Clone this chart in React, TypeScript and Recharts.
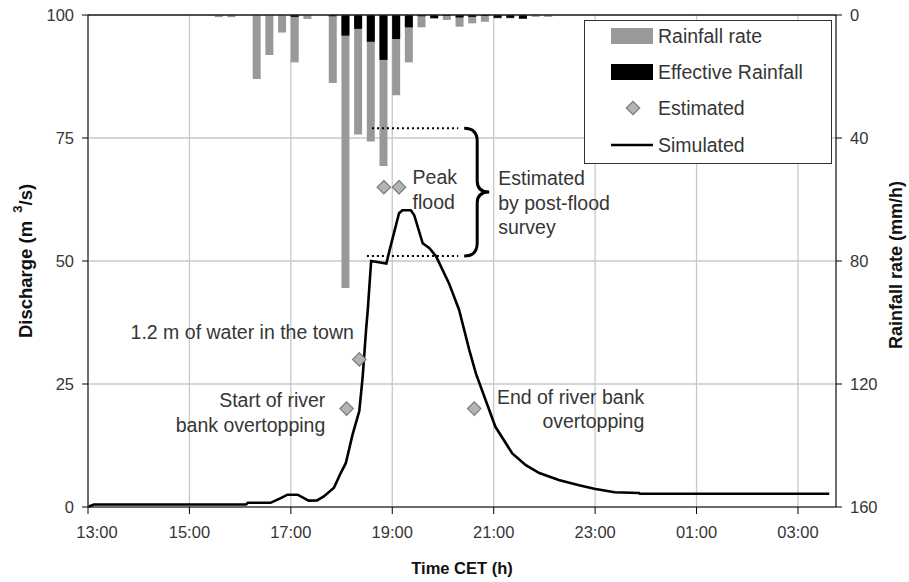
import React from 'react'
import {
  Bar,
  CartesianGrid,
  ComposedChart,
  Line,
  ReferenceDot,
  ReferenceLine,
  Scatter,
  XAxis,
  YAxis,
} from 'recharts'

const FONT = '"Liberation Sans", Arial, Helvetica, sans-serif'
const GREY = '#999999'
const INK = '#363636'

// "HH:MM" -> decimal hours; times after midnight roll on past 24
const hrs = (s: string) => {
  const [h, m] = s.split(':').map(Number)
  return (h < 12 ? h + 24 : h) + m / 60
}

// rainfall in 15-minute blocks (block centre), mm/h
const rainTimes = [
  '15:35', '15:50', '16:05', '16:20', '16:35', '16:50', '17:05', '17:20', '17:35',
  '17:50', '18:05', '18:20', '18:35', '18:50', '19:05', '19:20', '19:35', '19:50',
  '20:05', '20:20', '20:35', '20:50', '21:05', '21:20', '21:35', '21:50', '22:05',
]
const rainRate = [
  0.7, 0.7, 0, 20.8, 13.0, 5.7, 15.4, 1.3, 0,
  22.1, 88.8, 38.9, 41.1, 49.1, 26.1, 15.4, 4.0, 1.2,
  1.6, 3.8, 2.7, 2.2, 1.1, 1.1, 1.2, 0.6, 0.6,
]
const rainEffective = [
  0, 0, 0, 0, 0, 0, 0.6, 0, 0,
  0.4, 6.7, 4.5, 8.7, 14.6, 7.8, 4.0, 0.4, 1.0,
  0.3, 0.8, 0.6, 0.3, 0.9, 0.9, 1.2, 0, 0,
]

// simulated discharge, m3/s
const simTimes = [
  '13:01', '13:07', '16:07', '16:09', '16:36', '16:48', '16:56', '17:08', '17:21',
  '17:31', '17:39', '17:51', '17:59', '18:05', '18:13', '18:21', '18:25', '18:29',
  '18:31', '18:35', '18:53', '18:57', '19:08', '19:12', '19:22', '19:26', '19:36',
  '19:44', '19:52', '20:07', '20:19', '20:31', '20:39', '21:02', '21:22', '21:38',
  '21:54', '22:17', '22:41', '22:59', '23:23', '23:52', '23:53', '03:37',
]
const simFlow = [
  0.1, 0.5, 0.5, 0.85, 0.85, 1.8, 2.5, 2.5, 1.3,
  1.35, 2.15, 3.9, 6.9, 8.9, 14.7, 19.5, 26.5, 36,
  40, 50, 49.5, 52.3, 59.7, 60.3, 60.3, 59.3, 53.6,
  52.6, 50.9, 45.5, 40.1, 32, 27.1, 16.3, 10.9, 8.5,
  6.9, 5.5, 4.4, 3.7, 3.0, 2.85, 2.7, 2.7,
]

// estimated discharge points, m3/s
const estTimes = ['18:06', '18:21', '18:50', '19:08', '20:37']
const estFlow = [20, 30, 65, 65, 20]

// post-flood survey range, m3/s
const surveyLow = 51
const surveyHigh = 77

const timeTicks = [13, 15, 17, 19, 21, 23, 25, 27]
const flowTicks = [0, 25, 50, 75, 100]
const rainTicks = [0, 40, 80, 120, 160]

const rainData = rainTimes.map((s, i) => ({ t: hrs(s), rate: rainRate[i], eff: rainEffective[i] }))
const simData = simTimes.map((s, i) => ({ t: hrs(s), q: simFlow[i] }))
const estData = estTimes.map((s, i) => ({ t: hrs(s), q: estFlow[i] }))

// text notes: anchor time/discharge, alignment, lines
const notes = [
  { t: 13.84, q: 35.6, anchor: 'start', lines: ['1.2 m of water in the town'] },
  { t: 17.68, q: 21.7, anchor: 'end', lines: ['Start of river', 'bank overtopping'] },
  { t: 23.97, q: 22.4, anchor: 'end', lines: ['End of river bank', 'overtopping'] },
  { t: 19.4, q: 67, anchor: 'start', lines: ['Peak', 'flood'] },
  { t: 21.09, q: 66.8, anchor: 'start', lines: ['Estimated', 'by post-flood', 'survey'] },
]

const fmtTime = (h: number) => String(h % 24).padStart(2, '0') + ':00'

const Diamond = (p: any) => {
  const { cx, cy } = p
  const r = 6.7
  return (
    <polygon
      points={`${cx},${cy - r} ${cx + r},${cy} ${cx},${cy + r} ${cx - r},${cy}`}
      fill="#b3b3b3"
      stroke="#7a7a7a"
      strokeWidth={1.2}
    />
  )
}

const noteShape = (lines: string[], anchor: string) => (p: any) => (
  <text
    x={p.cx}
    y={p.cy}
    textAnchor={anchor}
    fontFamily={FONT}
    fontSize={19.5}
    fill={INK}
  >
    {lines.map((l, i) => (
      <tspan key={i} x={p.cx} dy={i === 0 ? '0.35em' : 24.5}>
        {l}
      </tspan>
    ))}
  </text>
)

// curly brace spanning the survey range, opening to the left
const Brace = (p: any) => {
  const x = p.x1
  const top = Math.min(p.y1, p.y2)
  const bot = Math.max(p.y1, p.y2)
  const mid = (top + bot) / 2
  const a = x + 6
  const s = x + 19
  const tip = x + 31
  const d = [
    `M ${a} ${top}`,
    `Q ${s} ${top} ${s} ${top + 13}`,
    `L ${s} ${mid - 11}`,
    `Q ${s} ${mid} ${tip} ${mid}`,
    `Q ${s} ${mid} ${s} ${mid + 11}`,
    `L ${s} ${bot - 13}`,
    `Q ${s} ${bot} ${a} ${bot}`,
  ].join(' ')
  return <path d={d} fill="none" stroke="#000" strokeWidth={3} />
}

// first time label sits a little right of the axis corner
const TimeTick = (p: any) => {
  const { x, y, payload } = p
  const dx = payload.value === timeTicks[0] ? 9 : 0
  return (
    <text
      x={x + dx}
      y={y}
      dy="0.71em"
      textAnchor="middle"
      fontFamily={FONT}
      fontSize={16.5}
      fill={INK}
    >
      {fmtTime(payload.value)}
    </text>
  )
}

const LeftTitle = (p: any) => {
  const cx = p.viewBox.x + 25
  const cy = p.viewBox.y + p.viewBox.height / 2
  return (
    <text
      x={cx}
      y={cy}
      transform={`rotate(-90 ${cx} ${cy})`}
      textAnchor="middle"
      dominantBaseline="central"
      fontFamily={FONT}
      fontSize={18.5}
      fontWeight="bold"
      fill="#111"
    >
      <tspan>Discharge (m </tspan>
      <tspan dx={3} dy={-8} fontSize={13}>3</tspan>
      <tspan dy={8}>/s)</tspan>
    </text>
  )
}

const RightTitle = (p: any) => {
  const cx = p.viewBox.x + 60
  const cy = p.viewBox.y + p.viewBox.height / 2 + 4
  return (
    <text
      x={cx}
      y={cy}
      transform={`rotate(-90 ${cx} ${cy})`}
      textAnchor="middle"
      dominantBaseline="central"
      fontFamily={FONT}
      fontSize={18}
      fontWeight="bold"
      fill="#111"
    >
      Rainfall rate (mm/h)
    </text>
  )
}

const BottomTitle = (p: any) => (
  <text
    x={p.viewBox.x + p.viewBox.width / 2}
    y={568}
    textAnchor="middle"
    dominantBaseline="central"
    fontFamily={FONT}
    fontSize={16.5}
    fontWeight="bold"
    fill="#111"
  >
    Time CET (h)
  </text>
)

const legendItems = ['Rainfall rate', 'Effective Rainfall', 'Estimated', 'Simulated']

function LegendBox() {
  const rows = [16, 52, 88, 125]
  return (
    <svg width={248} height={144} style={{ position: 'absolute', left: 584, top: 20 }}>
      <rect x={0.5} y={0.5} width={247} height={143} fill="#fff" stroke="#333" />
      <rect x={27} y={rows[0] - 8} width={42} height={16} fill={GREY} />
      <rect x={27} y={rows[1] - 8} width={42} height={16} fill="#000" />
      <Diamond cx={49} cy={rows[2]} />
      <line x1={27} x2={69} y1={rows[3]} y2={rows[3]} stroke="#000" strokeWidth={2.5} />
      {legendItems.map((name, i) => (
        <text
          key={name}
          x={74}
          y={rows[i]}
          dominantBaseline="central"
          fontFamily={FONT}
          fontSize={19.5}
          fill={INK}
        >
          {name}
        </text>
      ))}
    </svg>
  )
}

export default function App() {
  const tickStyle = { fontSize: 16.5, fill: INK, fontFamily: FONT }
  return (
    <div style={{ position: 'fixed', left: 0, top: 0, width: 909, height: 582, background: '#fff' }}>
      <ComposedChart
        width={909}
        height={582}
        data={rainData}
        margin={{ top: 15, right: 0, bottom: 0, left: 0 }}
        barGap={-8}
      >
        <CartesianGrid xAxisId="t" yAxisId="q" stroke="#c8c8c8" strokeWidth={1.3} />
        {/* hidden time axis that only carries the rainfall bars */}
        <XAxis
          xAxisId="r"
          orientation="top"
          type="number"
          dataKey="t"
          domain={[13, 27.75]}
          allowDataOverflow
          hide
          height={0}
        />
        <XAxis
          xAxisId="t"
          type="number"
          dataKey="t"
          domain={[13, 27.75]}
          ticks={timeTicks}
          allowDataOverflow
          height={75}
          stroke="#000"
          tickSize={7}
          tickMargin={12}
          tick={TimeTick}
          label={BottomTitle}
        />
        <YAxis
          yAxisId="q"
          domain={[0, 100]}
          ticks={flowTicks}
          width={88}
          stroke="#000"
          tickSize={6}
          tickMargin={8}
          tick={tickStyle}
          label={LeftTitle}
        />
        <YAxis
          yAxisId="rain"
          orientation="right"
          domain={[0, 160]}
          ticks={rainTicks}
          reversed
          width={73}
          stroke="#000"
          tickSize={6}
          tickMargin={8}
          tick={tickStyle}
          label={RightTitle}
        />
        <ReferenceLine xAxisId="t" yAxisId="q" y={100} stroke="#222" strokeWidth={1.3} />
        <Bar
          xAxisId="r"
          yAxisId="rain"
          dataKey="rate"
          fill={GREY}
          barSize={8}
          isAnimationActive={false}
        />
        <Bar
          xAxisId="r"
          yAxisId="rain"
          dataKey="eff"
          fill="#000"
          barSize={8}
          isAnimationActive={false}
        />
        <ReferenceLine
          xAxisId="t"
          yAxisId="q"
          segment={[{ x: 18.6, y: surveyHigh }, { x: 20.3, y: surveyHigh }]}
          stroke="#000"
          strokeWidth={2}
          strokeDasharray="2 3"
        />
        <ReferenceLine
          xAxisId="t"
          yAxisId="q"
          segment={[{ x: 18.5, y: surveyLow }, { x: 20.3, y: surveyLow }]}
          stroke="#000"
          strokeWidth={2}
          strokeDasharray="2 3"
        />
        <ReferenceLine
          xAxisId="t"
          yAxisId="q"
          segment={[{ x: 20.3, y: surveyHigh }, { x: 20.3, y: surveyLow }]}
          shape={Brace}
        />
        <Line
          xAxisId="t"
          yAxisId="q"
          data={simData}
          dataKey="q"
          type="linear"
          stroke="#000"
          strokeWidth={2.6}
          dot={false}
          activeDot={false}
          isAnimationActive={false}
        />
        <Scatter
          xAxisId="t"
          yAxisId="q"
          data={estData}
          dataKey="q"
          shape={Diamond}
          isAnimationActive={false}
        />
        {notes.map((n, i) => (
          <ReferenceDot
            key={i}
            xAxisId="t"
            yAxisId="q"
            x={n.t}
            y={n.q}
            r={0}
            shape={noteShape(n.lines, n.anchor)}
          />
        ))}
      </ComposedChart>
      <LegendBox />
    </div>
  )
}
